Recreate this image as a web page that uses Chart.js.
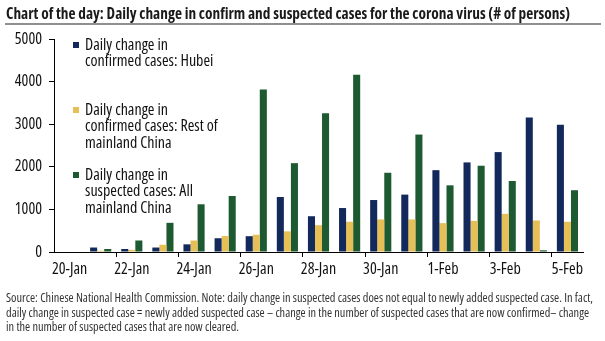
<!DOCTYPE html>
<html>
<head>
<meta charset="utf-8">
<script src="https://cdn.jsdelivr.net/npm/chart.js@4/dist/chart.umd.min.js"></script>
<style>
  body { margin: 0; background: #fff; }
  #wrap { position: relative; width: 605px; height: 341px; overflow: hidden; }
  .fit { position: absolute; left: 6px; white-space: nowrap; transform-origin: 0 0; font-family: "Open Sans", sans-serif; font-stretch: condensed; }
  #title { top: 4px; font-size: 15.5px; font-weight: bold; color: #1a1a1a; line-height: 18px; }
  #rule { position: absolute; left: 5px; top: 23px; width: 596px; height: 2px; background: #8f8f8f; }
  .src { font-size: 13px; line-height: 14px; color: #333; }
  #chart_box { position: absolute; left: 0; top: 0; width: 605px; height: 341px; }
</style>
</head>
<body>
<div id="wrap">
  <div id="chart_box"><canvas id="graph_chart"></canvas></div>
  <div id="title" class="fit" data-w="564">Chart of the day: Daily change in confirm and suspected cases for the corona virus (# of persons)</div>
  <div id="rule"></div>
  <div class="fit src" data-w="587" style="top:290px">Source: Chinese National Health Commission. Note: daily change in suspected cases does not equal to newly added suspected case. In fact,</div>
  <div class="fit src" data-w="583" style="top:305px">daily change in suspected case = newly added suspected case &ndash; change in the number of suspected cases that are now confirmed&ndash; change</div>
  <div class="fit src" data-w="233" style="top:319px">in the number of suspected cases that are now cleared.</div>
</div>
<script>
const dates = ['20-Jan', '21-Jan', '22-Jan', '23-Jan', '24-Jan', '25-Jan', '26-Jan', '27-Jan', '28-Jan',
               '29-Jan', '30-Jan', '31-Jan', '1-Feb', '2-Feb', '3-Feb', '4-Feb', '5-Feb'];
const hubei = [0, 105, 70, 105, 180, 323, 371, 1291, 840, 1032, 1220, 1347, 1921, 2103, 2345, 3156, 2987];
const restOfChina = [0, 30, 50, 170, 270, 375, 405, 485, 630, 710, 765, 765, 678, 732, 895, 740, 710];
const suspected = [0, 70, 270, 685, 1120, 1315, 3815, 2085, 3255, 4160, 1860, 2757, 1565, 2025, 1667, 40, 1450];
const yTicks = [0, 1000, 2000, 3000, 4000, 5000];

const legendLines = [
  ['Daily change in', 'confirmed cases: Hubei'],
  ['Daily change in', 'confirmed cases: Rest of', 'mainland China'],
  ['Daily change in', 'suspected cases: All', 'mainland China']
];
const colors = ['#13295b', '#e6c057', '#1d5a32'];
const labelFont = { family: '"Open Sans", sans-serif', size: 16, weight: 'normal condensed' };

// squeeze the html text lines to the widths they have in the picture
document.querySelectorAll('.fit').forEach(el => {
  const w = el.getBoundingClientRect().width;
  el.style.transform = 'scaleX(' + (el.dataset.w / w) + ')';
});

// legend drawn inside the plot, multi-line labels
const boxLegend = {
  id: 'boxLegend',
  afterDraw(chart) {
    const ctx = chart.ctx;
    const tops = [45, 110, 175];
    ctx.save();
    ctx.font = 'normal condensed 16px "Open Sans", sans-serif';
    ctx.textBaseline = 'middle';
    legendLines.forEach((lines, i) => {
      ctx.fillStyle = colors[i];
      ctx.fillRect(73, tops[i] - 3, 6, 6);
      ctx.fillStyle = '#111';
      lines.forEach((txt, j) => ctx.fillText(txt, 85, tops[i] + j * 16.5));
    });
    ctx.restore();
  }
};

const ctx = document.getElementById('graph_chart');
new Chart(ctx, {
  type: 'bar',
  data: {
    labels: dates,
    datasets: [
      { label: legendLines[0].join(' '), data: hubei, backgroundColor: colors[0] },
      { label: legendLines[1].join(' '), data: restOfChina, backgroundColor: colors[1] },
      { label: legendLines[2].join(' '), data: suspected, backgroundColor: colors[2] }
    ]
  },
  options: {
    responsive: true,
    maintainAspectRatio: false,
    animation: false,
    datasets: { bar: { categoryPercentage: 0.68, barPercentage: 1 } },
    layout: { padding: { top: 39, right: 22, bottom: 0, left: 0 } },
    plugins: {
      legend: { display: false },
      tooltip: { enabled: false }
    },
    scales: {
      x: {
        afterFit: scale => { scale.height = 89; },
        border: { display: true, color: '#000', width: 1 },
        grid: {
          offset: true,
          drawOnChartArea: false,
          tickLength: 5,
          tickColor: c => (c.index % 2 === 0 && c.index > 0 && c.index < dates.length) ? '#000' : 'rgba(0,0,0,0)'
        },
        ticks: {
          autoSkip: false,
          maxRotation: 0,
          padding: 3,
          color: '#111',
          font: labelFont,
          callback: function (v, i) { return i % 2 === 0 ? dates[i] : ''; }
        }
      },
      y: {
        min: 0,
        max: 5000,
        afterFit: scale => { scale.width = 54; },
        afterBuildTicks: scale => { scale.ticks = yTicks.map(v => ({ value: v })); },
        border: { display: true, color: '#000', width: 1 },
        grid: { drawOnChartArea: false, tickLength: 5, tickColor: '#000' },
        ticks: {
          padding: 7,
          color: '#111',
          font: labelFont,
          callback: v => String(v)
        }
      }
    }
  },
  plugins: [boxLegend]
});
</script>
</body>
</html>
